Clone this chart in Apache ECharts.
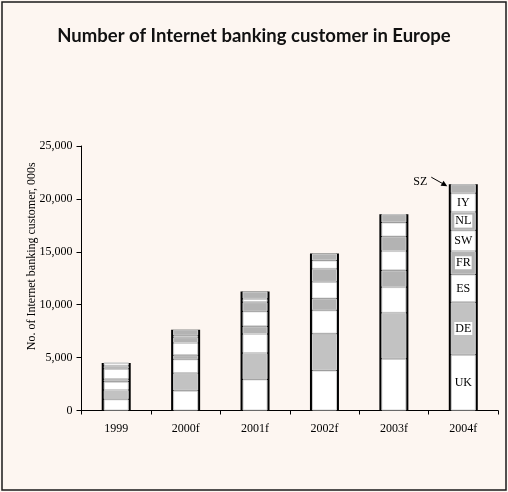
<!DOCTYPE html>
<html>
<head>
<meta charset="utf-8">
<script src="https://cdn.jsdelivr.net/npm/echarts@6/dist/echarts.min.js"></script>
<style>
html,body{margin:0;padding:0;background:#ffffff;}
#chart{width:508px;height:492px;}
</style>
</head>
<body>
<div id="chart"></div>
<script>
const categories = ['1999', '2000f', '2001f', '2002f', '2003f', '2004f'];
const UK = [1060, 1880, 2940, 3780, 4890, 5270];
const DE = [880, 1650, 2490, 3480, 4340, 4960];
const ES = [790, 1310, 1800, 2210, 2430, 2630];
const FR = [230, 380, 720, 1110, 1580, 2210];
const SW = [980, 1160, 1420, 1580, 1830, 1960];
const NL = [280, 550, 870, 1230, 1370, 1740];
const IY = [260, 140, 310, 790, 1330, 1770];
const SZ = [20, 570, 700, 660, 790, 850];
const seriesNames = ['UK', 'DE', 'ES', 'FR', 'SW', 'NL', 'IY', 'SZ'];
const yTicks = [0, 5000, 10000, 15000, 20000, 25000];

const seriesData = [UK, DE, ES, FR, SW, NL, IY, SZ];
const fills = ['#ffffff', '#c2c2c2', '#ffffff', '#b3b3b3', '#ffffff', '#b3b3b3', '#ffffff', '#b3b3b3'];
const totals = categories.map((c, i) => seriesData.reduce((s, a) => s + a[i], 0));
const last = categories.length - 1;
const serif = 'Liberation Serif';

const stacked = seriesNames.map((name, k) => ({
  name: name,
  type: 'bar',
  stack: 'total',
  xAxisIndex: 0,
  yAxisIndex: 0,
  barWidth: 25,
  z: 3,
  itemStyle: { color: fills[k], borderColor: '#d2d2d2', borderWidth: 1 },
  data: seriesData[k].map((v, i) => {
    if (i === last && name !== 'SZ') {
      return {
        value: v,
        label: {
          show: true,
          position: 'inside',
          formatter: name,
          fontFamily: serif,
          fontSize: 12,
          color: '#000',
          backgroundColor: fills[k] === '#ffffff' ? 'transparent' : '#ffffff',
          padding: [1, 1, 0, 1]
        }
      };
    }
    return v;
  })
}));

const chart = echarts.init(document.getElementById('chart'), null, { renderer: 'canvas' });
chart.setOption({
  animation: false,
  backgroundColor: '#fdf6f1',
  title: {
    text: 'Number of Internet banking customer in Europe',
    left: 'center',
    top: 22,
    textStyle: { fontFamily: 'Lato', fontWeight: 'bold', fontSize: 18.5, color: '#111' }
  },
  grid: { left: 81.5, right: 10, top: 146, bottom: 81.5 },
  xAxis: [
    {
      type: 'category',
      data: categories,
      boundaryGap: true,
      axisLine: { lineStyle: { color: '#000', width: 1 } },
      axisTick: { show: true, length: 4, lineStyle: { color: '#000' } },
      axisLabel: { fontFamily: serif, fontSize: 12, color: '#000', margin: 12 }
    },
    {
      type: 'category',
      data: categories,
      show: false,
      position: 'bottom'
    }
  ],
  yAxis: {
    type: 'value',
    min: yTicks[0],
    max: yTicks[yTicks.length - 1],
    interval: yTicks[1] - yTicks[0],
    name: 'No. of Internet banking customer, 000s',
    nameLocation: 'middle',
    nameGap: 44,
    nameMoveOverlap: false,
    nameTextStyle: { fontFamily: serif, fontSize: 12, color: '#000', padding: [0, 0, 0, 44] },
    axisLine: { show: true, lineStyle: { color: '#000', width: 1 } },
    axisTick: { show: true, length: 5, lineStyle: { color: '#000' } },
    splitLine: { show: false },
    axisLabel: {
      fontFamily: serif, fontSize: 12, color: '#000', margin: 9,
      formatter: v => String(v).replace(/\B(?=(\d{3})+(?!\d))/g, ',')
    }
  },
  series: [
    {
      name: 'frame',
      type: 'bar',
      xAxisIndex: 1,
      yAxisIndex: 0,
      barWidth: 29,
      z: 2,
      silent: true,
      itemStyle: { color: '#000' },
      data: totals
    }
  ].concat(stacked)
});

// SZ annotation with arrow, positioned via the chart's own scales
const p = chart.convertToPixel({ xAxisIndex: 0, yAxisIndex: 0 }, [categories[last], totals[last]]);
const ex = p[0] - 16, ey = p[1] + 2;
const sx = p[0] - 32, sy = p[1] - 7;
const ang = Math.atan2(ey - sy, ex - sx);
const ah = 6, aw = 3;
const bx = ex - ah * Math.cos(ang), by = ey - ah * Math.sin(ang);
chart.setOption({
  graphic: [
    {
      type: 'rect',
      shape: { x: 2, y: 2, width: 504, height: 488 },
      style: { fill: 'transparent', stroke: '#1a1a1a', lineWidth: 1.5 },
      silent: true,
      z: 100
    },
    {
      type: 'line',
      shape: { x1: sx, y1: sy, x2: bx, y2: by },
      style: { stroke: '#000', lineWidth: 1 },
      z: 100
    },
    {
      type: 'polygon',
      shape: {
        points: [
          [ex, ey],
          [bx - aw * Math.sin(ang), by + aw * Math.cos(ang)],
          [bx + aw * Math.sin(ang), by - aw * Math.cos(ang)]
        ]
      },
      style: { fill: '#000' },
      z: 100
    },
    {
      type: 'text',
      x: sx - 4,
      y: p[1] - 2,
      style: {
        text: 'SZ',
        font: '12px "Liberation Serif"',
        fill: '#000',
        align: 'right',
        verticalAlign: 'middle'
      },
      z: 100
    }
  ]
});
</script>
</body>
</html>
